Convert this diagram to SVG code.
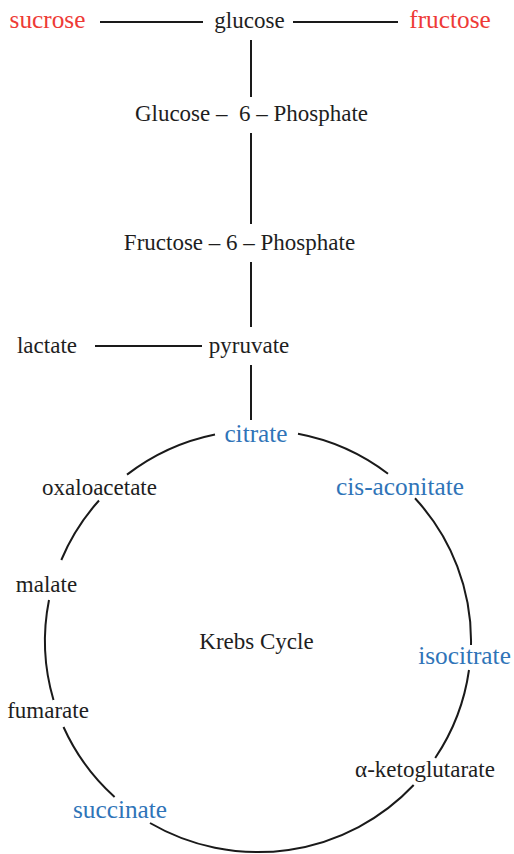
<svg xmlns="http://www.w3.org/2000/svg" width="514" height="854" viewBox="0 0 514 854">
  <style>
    text { text-anchor: middle; }
    .k { fill: #1e1e1e; font-size: 23px; }
    .r { fill: #ee3a36; font-size: 25.3px; }
    .b { fill: #2f74b8; font-size: 25.3px; }
    .ln { stroke: #1a1a1a; stroke-width: 2; fill: none; stroke-linecap: butt; }
  </style>
  <rect width="514" height="854" fill="#ffffff"/>

  <!-- connectors: glycolysis chain and the Krebs cycle ring -->
  <g id="connectors" class="ln">
    <line x1="100" y1="22" x2="203" y2="22"/>
    <line x1="293" y1="22" x2="398" y2="22"/>
    <line x1="251" y1="40" x2="251" y2="97"/>
    <line x1="251" y1="133" x2="251" y2="224"/>
    <line x1="251" y1="262" x2="251" y2="327"/>
    <line x1="95" y1="346" x2="202" y2="346"/>
    <line x1="251" y1="365" x2="251" y2="420"/>
    <!-- ring segments between the cycle intermediates -->
    <path d="M298,433.8 A213,211 0 0 1 388,473.8"/>
    <path d="M415,498.3 A213,211 0 0 1 471,645"/>
    <path d="M469,670 A213,211 0 0 1 435.2,758"/>
    <path d="M413.7,785 A213,211 0 0 1 150,823"/>
    <path d="M114.6,797 A213,211 0 0 1 63.5,727"/>
    <path d="M53.5,700 A213,211 0 0 1 49,600"/>
    <path d="M61.3,560 A213,211 0 0 1 99,500.5"/>
    <path d="M127,474.6 A213,211 0 0 1 215,434.4"/>
  </g>

  <g font-family="'Liberation Serif', 'DejaVu Serif', serif">
    <g id="sucrose"><text class="r" x="47.5" y="28">sucrose</text></g>
    <g id="glucose"><text class="k" x="249.5" y="28">glucose</text></g>
    <g id="fructose"><text class="r" x="450" y="28">fructose</text></g>
    <g id="glucose-6-phosphate"><text class="k" x="251.5" y="121" xml:space="preserve">Glucose –  6 – Phosphate</text></g>
    <g id="fructose-6-phosphate"><text class="k" x="239.5" y="250">Fructose – 6 – Phosphate</text></g>
    <g id="lactate"><text class="k" x="47" y="353">lactate</text></g>
    <g id="pyruvate"><text class="k" x="249" y="353">pyruvate</text></g>
    <g id="citrate"><text class="b" x="256" y="442">citrate</text></g>
    <g id="oxaloacetate"><text class="k" x="99.5" y="495">oxaloacetate</text></g>
    <g id="cis-aconitate"><text class="b" x="400" y="495">cis-aconitate</text></g>
    <g id="malate"><text class="k" x="46.5" y="592">malate</text></g>
    <g id="krebs-cycle"><text class="k" x="256.5" y="649">Krebs Cycle</text></g>
    <g id="isocitrate"><text class="b" x="464.5" y="664">isocitrate</text></g>
    <g id="fumarate"><text class="k" x="48" y="718">fumarate</text></g>
    <g id="alpha-ketoglutarate"><text class="k" x="425" y="777">α-ketoglutarate</text></g>
    <g id="succinate"><text class="b" x="120" y="818">succinate</text></g>
  </g>
</svg>
